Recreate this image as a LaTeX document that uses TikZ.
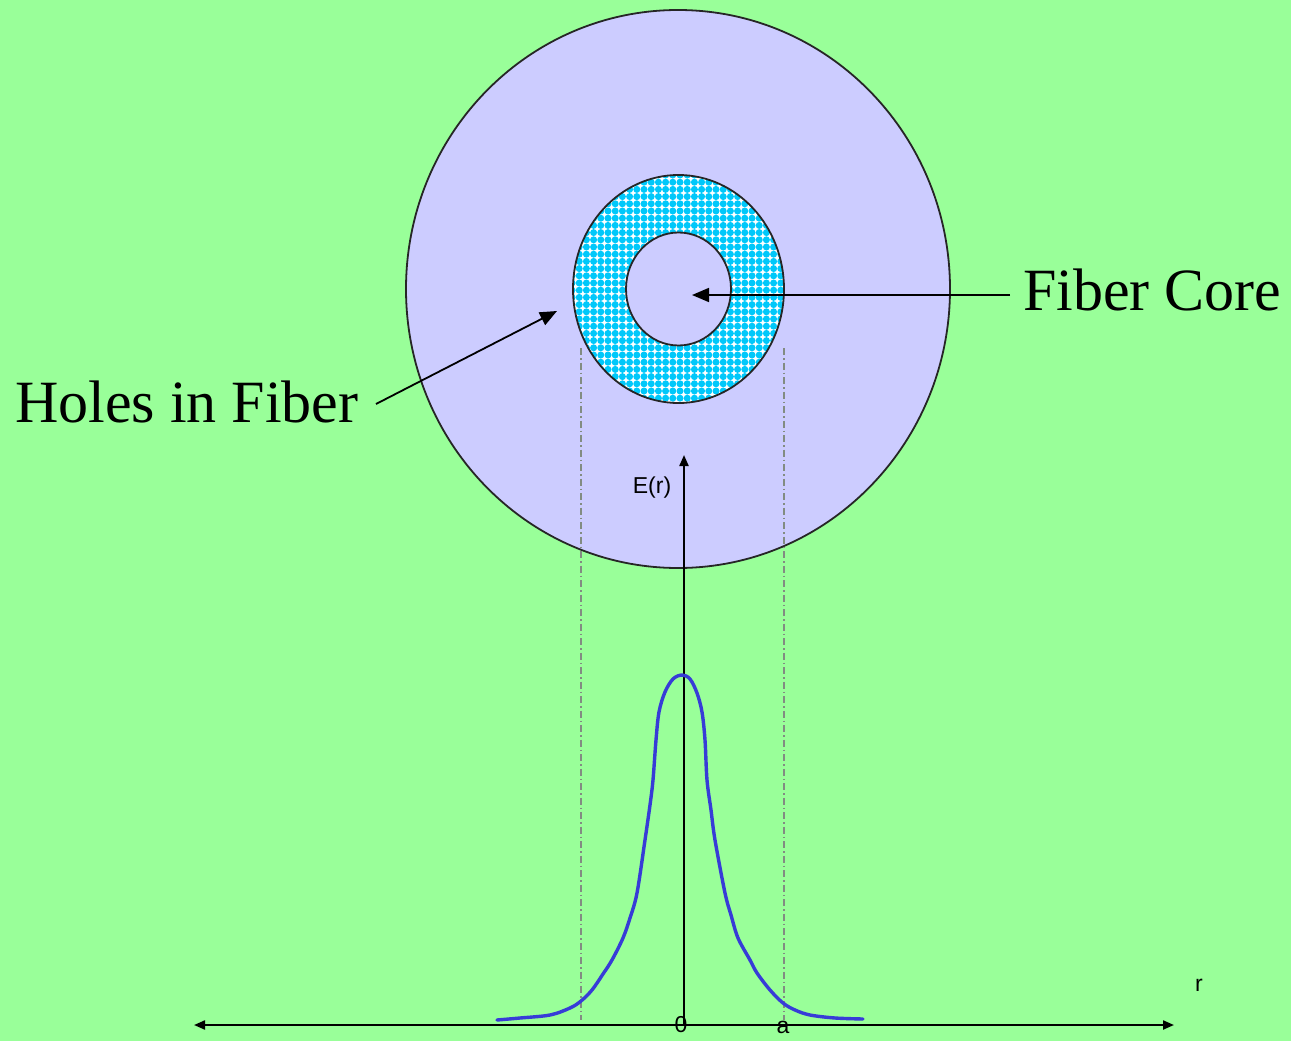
\documentclass[tikz,border=0pt]{standalone}
\usepackage{fontspec}
\setmainfont{Liberation Serif}
\setsansfont{Liberation Sans}
\usetikzlibrary{arrows.meta}
\definecolor{bggreen}{RGB}{153,255,153}
\definecolor{lav}{RGB}{204,204,255}
\definecolor{cyanring}{RGB}{0,200,250}
\definecolor{curveblue}{RGB}{55,60,215}
\definecolor{dashgray}{RGB}{130,140,130}
\tikzset{
  outline/.style={draw=black!85, line width=1.8pt},
  biglabel/.style={font=\fontsize{60pt}{70pt}\selectfont, inner sep=0pt},
  smalllabel/.style={font=\sffamily\fontsize{23pt}{27pt}\selectfont, inner sep=0pt},
  pointer/.style={draw=black, line width=1.8pt, -{Triangle[length=17pt,width=14pt]}},
  axis/.style={draw=black, line width=2.1pt},
  guide/.style={draw=dashgray, line width=1.5pt, dash pattern=on 7pt off 3pt on 1.5pt off 3pt},
  curve/.style={draw=curveblue, line width=3.4pt, line join=round, line cap=round}
}
\begin{document}
\begin{tikzpicture}[x=1pt,y=-1pt]
\fill[bggreen] (0,0) rectangle (1291,1041);
\useasboundingbox (0,0) rectangle (1291,1041);

% big cladding circle
\draw[outline, fill=lav] (678,289) ellipse [x radius=272pt, y radius=279pt];

% ring of holes
\begin{scope}[even odd rule]
  \clip (678.5,289) ellipse [x radius=105.5pt, y radius=114pt]
        (678.5,289) ellipse [x radius=52.5pt, y radius=56.5pt];
  \fill[white] (570,172) rectangle (787,406);
  \foreach \i in {0,...,30}{
    \foreach \j in {0,...,33}{
      \fill[cyanring] (572+\i*7.2,175+\j*7.2) circle [radius=3.5pt];
    }
  }
\end{scope}
\draw[outline] (678.5,289) ellipse [x radius=105.5pt, y radius=114pt];
\draw[outline] (678.5,289) ellipse [x radius=52.5pt, y radius=56.5pt];

% guide lines
\coordinate (gl1) at (581,348);
\coordinate (gl2) at (581,1020);
\coordinate (gr1) at (784,348);
\coordinate (gr2) at (784,1020);
\draw[guide] (gl1) -- (gl2);
\draw[guide] (gr1) -- (gr2);

% labels
\node[biglabel, anchor=base west] (core) at (1023,310) {Fiber Core};
\node[biglabel, anchor=base west] (holes) at (15,422) {Holes in Fiber};
\coordinate (coretail) at (1010,295);
\coordinate (coretip) at (692,295);
\coordinate (holestail) at (376,404);
\coordinate (holestip) at (557,311);
\draw[pointer] (coretail) -- (coretip);
\draw[pointer] (holestail) -- (holestip);

% axes
\coordinate (origin) at (684,1025);
\coordinate (ytop) at (684,455);
\coordinate (xleft) at (194,1025);
\coordinate (xright) at (1174,1025);
\draw[axis, -{Triangle[length=11pt,width=9pt]}] (origin) -- (ytop);
\draw[axis, {Triangle[length=11pt,width=9pt]}-{Triangle[length=11pt,width=9pt]}] (xleft) -- (xright);

\node[smalllabel] (Er) at (652,488) {E(r)};
\node[smalllabel] (rlab) at (1199,985) {r};
\node[smalllabel] (zero) at (681,1025) {0};
\node[smalllabel] (alab) at (783,1027) {a};

% field profile
\draw[curve] plot[smooth, tension=0.55] coordinates {
 (497,1020) (520,1018) (550,1015) (570,1008) (581,1001) (592,990) (603,974)
 (612,960) (623,938) (630,918) (637,893) (645,840) (650,805) (653,780) (656,740)
 (659,712) (665,692) (673,679) (682,675) (690,679) (697,693) (702,712) (705,740)
 (707,780) (711,810) (715,840) (725,893) (731,915) (738,938) (750,960) (757,973)
 (770,990) (783,1003) (795,1010) (810,1015) (835,1018) (863,1019)};
\end{tikzpicture}
\end{document}
